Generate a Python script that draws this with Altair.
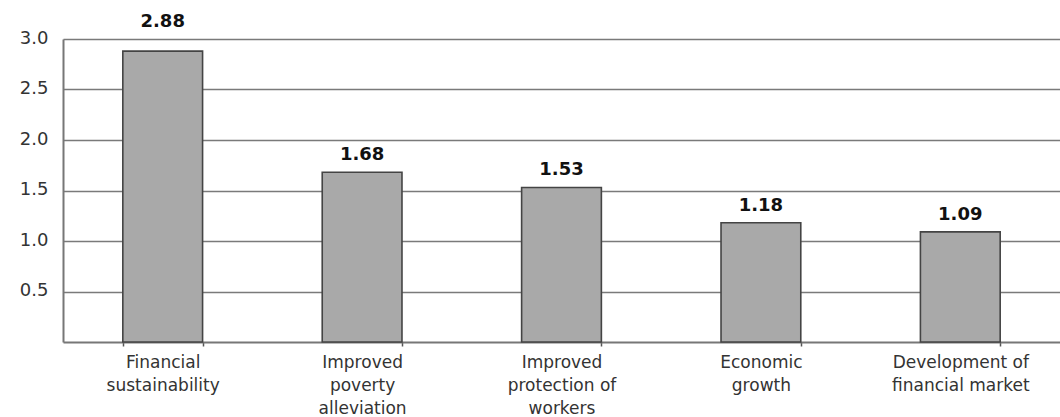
import altair as alt
import pandas as pd

# Category labels ("|" marks a line break) and the mean score of each
categories = [
    "Financial|sustainability",
    "Improved|poverty|alleviation",
    "Improved|protection of|workers",
    "Economic|growth",
    "Development of|financial market",
]
values = [2.88, 1.68, 1.53, 1.18, 1.09]
y_ticks = [0.5, 1.0, 1.5, 2.0, 2.5, 3.0]

df = pd.DataFrame({"category": categories, "value": values})

FONT = "DejaVu Sans"
Y_MAX = 3.0

x_enc = alt.X(
    "category:N",
    sort=categories,
    scale=alt.Scale(paddingInner=0.6, paddingOuter=0.3),
    axis=alt.Axis(
        title=None,
        labelAngle=0,
        labelExpr="split(datum.label, '|')",
        labelFont=FONT,
        labelFontSize=17,
        labelColor="#333333",
        labelLineHeight=23,
        labelBaseline="top",
        labelPadding=8,
        tickBand="extent",
        tickSize=4,
        tickColor="#555555",
        tickWidth=1.5,
        domainColor="#777777",
        domainWidth=2,
        grid=False,
    ),
)

y_enc = alt.Y(
    "value:Q",
    scale=alt.Scale(domain=[0, Y_MAX], nice=False, zero=True),
    axis=alt.Axis(
        title=None,
        values=y_ticks,
        format=".1f",
        labelFont=FONT,
        labelFontSize=18,
        labelColor="#333333",
        labelPadding=15,
        labelBaseline="bottom",
        labelOffset=8,
        ticks=False,
        domainColor="#777777",
        domainWidth=2,
        grid=True,
        gridColor="#7a7a7a",
        gridWidth=1.6,
    ),
)

bars = alt.Chart(df).mark_bar(
    fill="#a9a9a9", stroke="#444444", strokeWidth=1.6
).encode(x=x_enc, y=y_enc)

# Value labels sit just above their bar; a label that would run into the
# top frame line is lifted above that line instead.
labels = alt.Chart(df).transform_calculate(
    label_y=f"datum.value > {Y_MAX} - 0.25 ? {Y_MAX} : datum.value"
).mark_text(
    font=FONT, fontSize=18, fontWeight="bold", color="#111111",
    baseline="bottom", dy=-8,
).encode(
    x=alt.X("category:N", sort=categories),
    y=alt.Y("label_y:Q"),
    text=alt.Text("value:Q", format=".2f"),
)

chart = (
    alt.layer(bars, labels)
    .properties(
        width=997,
        height=303,
        autosize=alt.AutoSizeParams(type="none"),
        padding={"left": 63, "top": 39, "right": 0, "bottom": 75},
        background="white",
    )
    .configure_view(stroke=None)
)

chart.save("out.html", embed_options={"renderer": "svg", "actions": False})
